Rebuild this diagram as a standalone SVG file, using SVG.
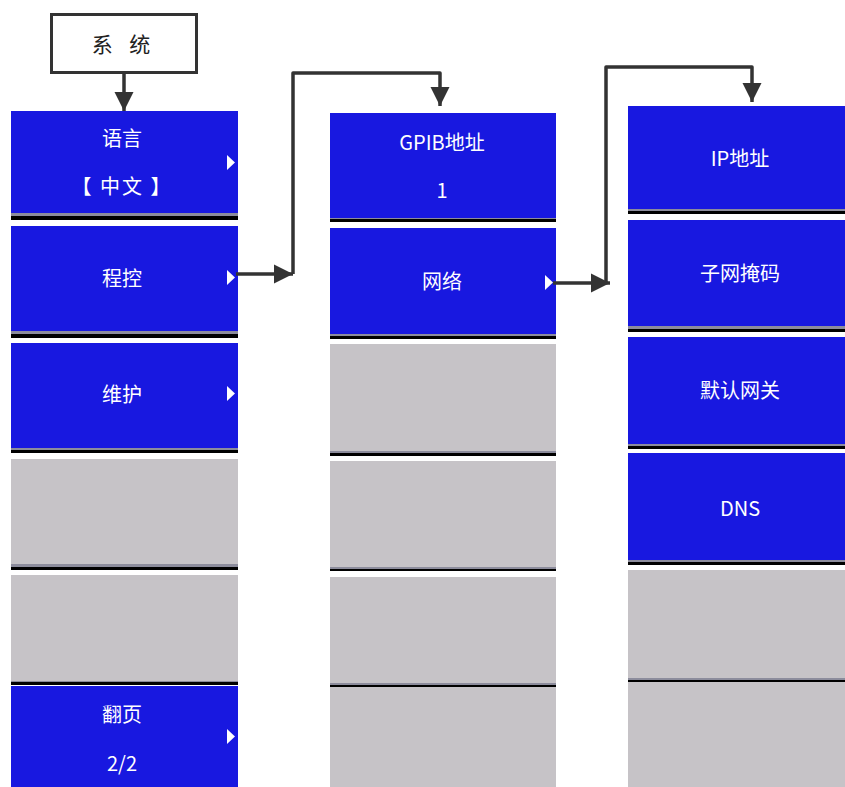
<svg xmlns="http://www.w3.org/2000/svg" width="845" height="787" viewBox="0 0 845 787">
<defs>
<style>
.blue{fill:#1818e0}
.grey{fill:#c6c3c7}
.sg{fill:#8c8c9c}
.sk{fill:#000}
.lbl{font-family:"Noto Sans CJK SC","Liberation Sans",sans-serif;font-size:20px;fill:#fff;text-anchor:middle;dominant-baseline:central}
.sys{font-family:"Noto Sans CJK SC","Liberation Serif",serif;font-size:21px;fill:#222;text-anchor:middle;dominant-baseline:central}
.tri{fill:#fff}
.conn{fill:none;stroke:#333;stroke-width:3.5;stroke-linejoin:round}
</style>
<marker id="ah" viewBox="0 0 10 10" refX="10" refY="5" markerWidth="5.5" markerHeight="5.5" markerUnits="strokeWidth" orient="auto">
<path d="M0,0 L10,5 L0,10 z" fill="#333"/>
</marker>
</defs>
<rect width="845" height="787" fill="#fff"/>

<g id="system">
<rect x="51.5" y="14.5" width="145" height="58" fill="#fff" stroke="#333" stroke-width="3"/>
<text class="sys" x="124" y="43" letter-spacing="6">系 统</text>
</g>

<!-- Column 1 -->
<g id="c1-lang">
<rect class="blue" x="11" y="111" width="227" height="102"/>
<rect class="sg" x="11" y="213" width="227" height="3"/><rect class="sk" x="11" y="216" width="227" height="4"/>
<text class="lbl" x="122" y="137">语言</text>
<text class="lbl" x="122" y="185" letter-spacing="2">【 中文 】</text>
<path class="tri" d="M227,155 L235,162.5 L227,170 z"/>
</g>
<g id="c1-remote">
<rect class="blue" x="11" y="226" width="227" height="105"/>
<rect class="sg" x="11" y="331" width="227" height="3"/><rect class="sk" x="11" y="334" width="227" height="4"/>
<text class="lbl" x="122" y="277">程控</text>
<path class="tri" d="M227,270 L235,277.5 L227,285 z"/>
</g>
<g id="c1-maint">
<rect class="blue" x="11" y="343" width="227" height="105"/>
<rect class="sg" x="11" y="448" width="227" height="2"/><rect class="sk" x="11" y="450" width="227" height="3"/>
<text class="lbl" x="122" y="393">维护</text>
<path class="tri" d="M227,386 L235,393.5 L227,401 z"/>
</g>
<g id="c1-empty1">
<rect class="grey" x="11" y="459" width="227" height="105"/>
<rect class="sg" x="11" y="564" width="227" height="3"/><rect class="sk" x="11" y="567" width="227" height="3"/>
</g>
<g id="c1-empty2">
<rect class="grey" x="11" y="575" width="227" height="106"/>
<rect class="sg" x="11" y="681" width="227" height="1"/><rect class="sk" x="11" y="682" width="227" height="3"/>
</g>
<g id="c1-page">
<rect class="blue" x="11" y="686" width="227" height="101"/>
<text class="lbl" x="122" y="713">翻页</text>
<text class="lbl" x="122" y="762">2/2</text>
<path class="tri" d="M227,729 L235,736.5 L227,744 z"/>
</g>

<!-- Column 2 -->
<g id="c2-gpib">
<rect class="blue" x="330" y="113" width="226" height="105"/>
<rect class="sg" x="330" y="218" width="226" height="1"/><rect class="sk" x="330" y="219" width="226" height="3"/>
<text class="lbl" x="442" y="141">GPIB地址</text>
<text class="lbl" x="442" y="189">1</text>
</g>
<g id="c2-net">
<rect class="blue" x="330" y="228" width="226" height="106"/>
<rect class="sg" x="330" y="334" width="226" height="2"/><rect class="sk" x="330" y="336" width="226" height="3"/>
<text class="lbl" x="442" y="280">网络</text>
<path class="tri" d="M545,275 L553,282.5 L545,290 z"/>
</g>
<g id="c2-empty1">
<rect class="grey" x="330" y="344" width="226" height="107"/>
<rect class="sg" x="330" y="451" width="226" height="2"/><rect class="sk" x="330" y="453" width="226" height="3"/>
</g>
<g id="c2-empty2">
<rect class="grey" x="330" y="461" width="226" height="106"/>
<rect class="sg" x="330" y="567" width="226" height="2"/><rect class="sk" x="330" y="569" width="226" height="2"/>
</g>
<g id="c2-empty3">
<rect class="grey" x="330" y="577" width="226" height="106"/>
<rect class="sg" x="330" y="683" width="226" height="2"/><rect class="sk" x="330" y="685" width="226" height="2"/>
</g>
<g id="c2-empty4">
<rect class="grey" x="330" y="687" width="226" height="100"/>
</g>

<!-- Column 3 -->
<g id="c3-ip">
<rect class="blue" x="628" y="106" width="217" height="103"/>
<rect class="sg" x="628" y="209" width="217" height="2"/><rect class="sk" x="628" y="211" width="217" height="3"/>
<text class="lbl" x="740" y="157">IP地址</text>
</g>
<g id="c3-mask">
<rect class="blue" x="628" y="220" width="217" height="106"/>
<rect class="sg" x="628" y="326" width="217" height="3"/><rect class="sk" x="628" y="329" width="217" height="3"/>
<text class="lbl" x="740" y="272">子网掩码</text>
</g>
<g id="c3-gw">
<rect class="blue" x="628" y="337" width="217" height="107"/>
<rect class="sg" x="628" y="444" width="217" height="2"/><rect class="sk" x="628" y="446" width="217" height="3"/>
<text class="lbl" x="740" y="389">默认网关</text>
</g>
<g id="c3-dns">
<rect class="blue" x="628" y="453" width="217" height="107"/>
<rect class="sg" x="628" y="560" width="217" height="2"/><rect class="sk" x="628" y="562" width="217" height="3"/>
<text class="lbl" x="740" y="507">DNS</text>
</g>
<g id="c3-empty1">
<rect class="grey" x="628" y="570" width="217" height="108"/>
<rect class="sg" x="628" y="678" width="217" height="2"/><rect class="sk" x="628" y="680" width="217" height="2"/>
</g>
<g id="c3-empty2">
<rect class="grey" x="628" y="682" width="217" height="105"/>
</g>

<g id="connectors">
<path class="conn" d="M124,73 L124,111" marker-end="url(#ah)"/>
<path class="conn" d="M236,274 L293,274" marker-end="url(#ah)"/>
<path class="conn" d="M293,274 L293,73 L440,73 L440,106" marker-end="url(#ah)"/>
<path class="conn" d="M553,283 L610,283" marker-end="url(#ah)"/>
<path class="conn" d="M606,283 L606,67 L752,67 L752,102" marker-end="url(#ah)"/>
</g>
</svg>
